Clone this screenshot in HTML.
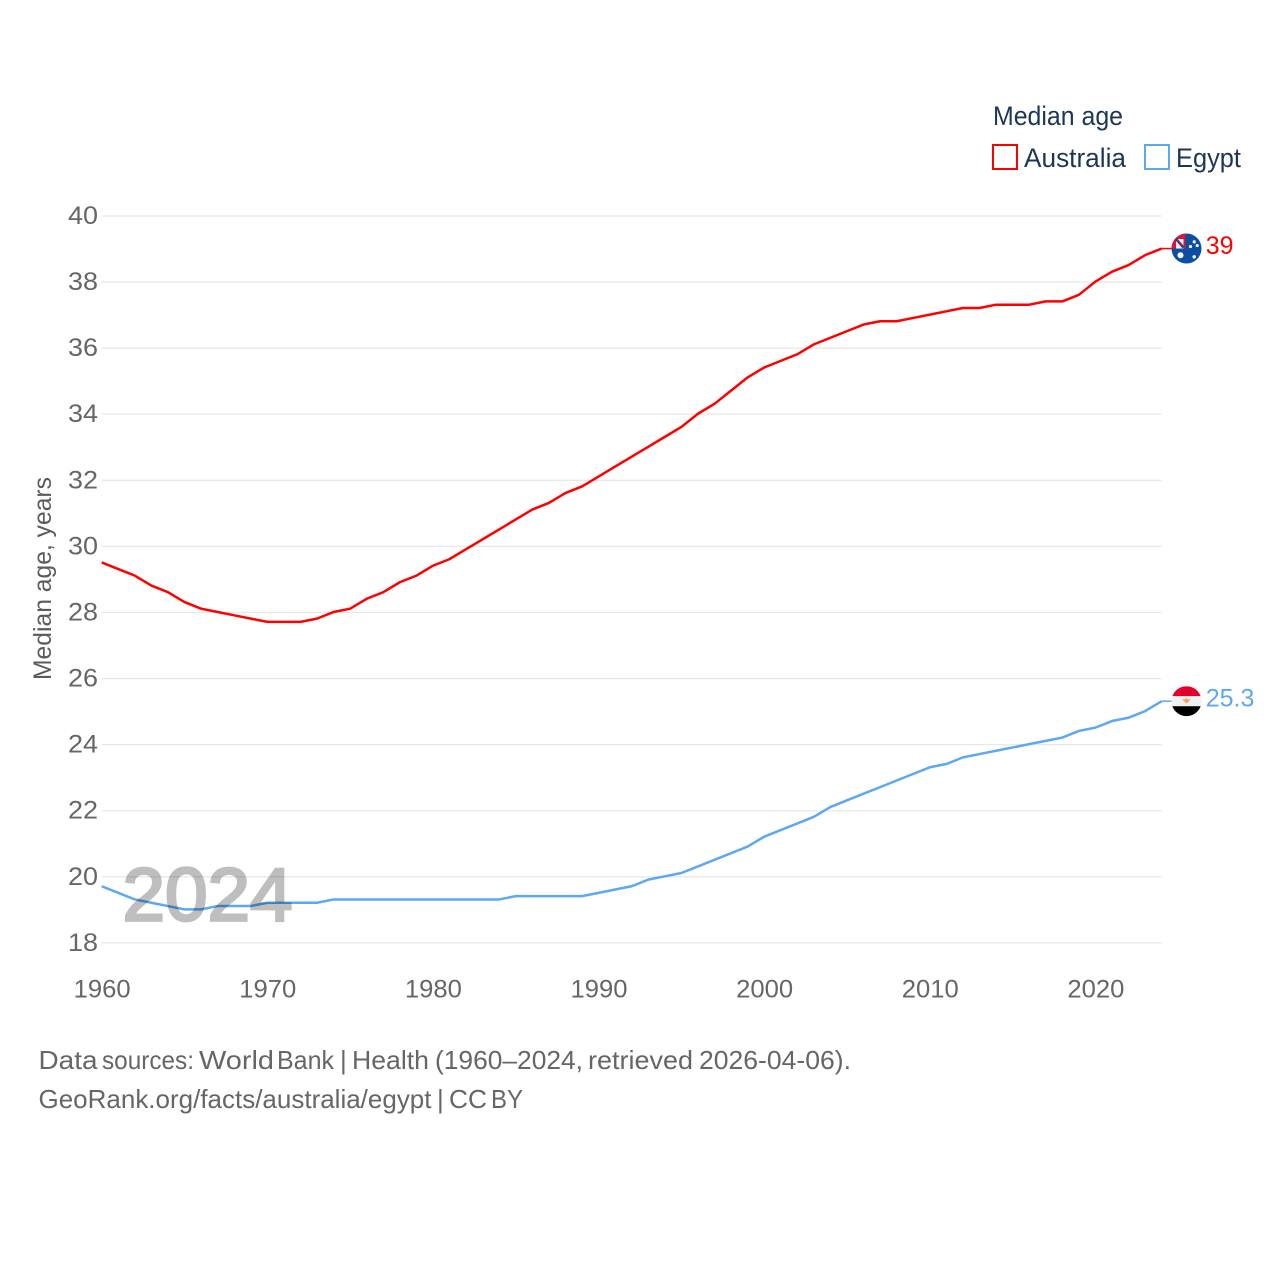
<!DOCTYPE html>
<html lang="en">
<head>
<meta charset="utf-8">
<title>Median age: Australia and Egypt</title>
<style>
html,body{margin:0;padding:0;background:#fff;}
svg{display:block;}
text{font-family:"Liberation Sans",sans-serif;}
</style>
</head>
<body>
<svg id="chart" xmlns="http://www.w3.org/2000/svg" width="1280" height="1280" viewBox="0 0 1280 1280">
  <defs>
    <clipPath id="flag-clip-au"><circle cx="0" cy="0" r="15"/></clipPath>
    <clipPath id="flag-clip-eg"><circle cx="0" cy="0" r="15"/></clipPath>
  </defs>
  <rect width="1280" height="1280" fill="#fff"/>

  <g id="grid" transform="translate(0,0.5)"></g>
  <g id="y-ticks"></g>
  <g id="x-ticks"></g>

  <text transform="translate(51,680) rotate(-90)" font-size="25" fill="#5b5b5b" textLength="203" lengthAdjust="spacingAndGlyphs">Median age, years</text>

  <g>
    <text x="993" y="125" font-size="26.5" fill="#1d3557" textLength="130" lengthAdjust="spacingAndGlyphs">Median age</text>
    <rect x="993" y="145" width="24" height="24" fill="#fff" stroke="#ff0000" stroke-width="2"/>
    <text x="1024" y="167" font-size="26.5" fill="#1d3557" textLength="102" lengthAdjust="spacingAndGlyphs">Australia</text>
    <rect x="1145" y="145" width="24" height="24" fill="#fff" stroke="#5ea8f0" stroke-width="2"/>
    <text x="1176" y="167" font-size="26.5" fill="#1d3557" textLength="65" lengthAdjust="spacingAndGlyphs">Egypt</text>
  </g>

  <g id="series"></g>

  <text x="122.5" y="920.5" font-size="75" fill="#000" stroke="#000" stroke-width="2.8" opacity="0.25" textLength="170" lengthAdjust="spacingAndGlyphs">2024</text>

  <g id="flag-au">
    <g clip-path="url(#flag-clip-au)">
      <rect x="-15" y="-15" width="30" height="30" fill="#0b4ea2"/>
      <rect x="-15" y="-15" width="14" height="15" fill="#d5173c"/>
      <rect x="-10.5" y="-9.5" width="7.5" height="9.5" fill="#eef0f6"/>
      <path d="M-10.5,-9.5 L-3,-1" stroke="#27407f" stroke-width="2.6"/>
      <path d="M-9,-8 L-4,-2.5" stroke="#d5173c" stroke-width="1"/>
      <circle cx="-6" cy="6.7" r="3" fill="#fff"/>
      <circle cx="7.7" cy="-6.7" r="1.6" fill="#fff"/>
      <circle cx="4" cy="-2" r="1.6" fill="#fff"/>
      <circle cx="10.7" cy="-3" r="1.6" fill="#fff"/>
      <circle cx="7.7" cy="8.3" r="1.7" fill="#fff"/>
    </g>
  </g>

  <g id="flag-eg">
    <g clip-path="url(#flag-clip-eg)">
      <rect x="-15" y="-15" width="30" height="10" fill="#e3002b"/>
      <rect x="-15" y="-5" width="30" height="10" fill="#f1f1f1"/>
      <rect x="-15" y="5" width="30" height="10" fill="#000"/>
      <path d="M-4.5,-2.5 L-1.5,-1.8 L0,-3 L1.5,-1.8 L4,-2.5 L2,0.6 L0,2.2 L-2,0.6 Z" fill="#f7a35c"/>
    </g>
  </g>

  <text id="label-au" font-size="25" fill="#ff0000"></text>
  <text id="label-eg" font-size="25" fill="#5ea8f0"></text>

  <g>
    <text y="1069" font-size="26" fill="#666"><tspan x="38.5" textLength="59" lengthAdjust="spacingAndGlyphs">Data</tspan> <tspan x="102" textLength="92" lengthAdjust="spacingAndGlyphs">sources:</tspan> <tspan x="199" textLength="75" lengthAdjust="spacingAndGlyphs">World</tspan> <tspan x="277" textLength="57" lengthAdjust="spacingAndGlyphs">Bank</tspan> <tspan x="340">|</tspan> <tspan x="352" textLength="77" lengthAdjust="spacingAndGlyphs">Health</tspan> <tspan x="435" textLength="148" lengthAdjust="spacingAndGlyphs">(1960–2024,</tspan> <tspan x="588" textLength="105" lengthAdjust="spacingAndGlyphs">retrieved</tspan> <tspan x="699" textLength="152" lengthAdjust="spacingAndGlyphs">2026-04-06).</tspan></text>
    <text y="1108" font-size="26" fill="#666"><tspan x="38.5" textLength="393" lengthAdjust="spacingAndGlyphs">GeoRank.org/facts/australia/egypt</tspan> <tspan x="437">|</tspan> <tspan x="449" textLength="38" lengthAdjust="spacingAndGlyphs">CC</tspan> <tspan x="491" textLength="32" lengthAdjust="spacingAndGlyphs">BY</tspan></text>
  </g>
</svg>

<script>
const years = [1960,1961,1962,1963,1964,1965,1966,1967,1968,1969,1970,1971,1972,1973,1974,1975,1976,1977,1978,1979,1980,1981,1982,1983,1984,1985,1986,1987,1988,1989,1990,1991,1992,1993,1994,1995,1996,1997,1998,1999,2000,2001,2002,2003,2004,2005,2006,2007,2008,2009,2010,2011,2012,2013,2014,2015,2016,2017,2018,2019,2020,2021,2022,2023,2024];
const australia = [29.5,29.3,29.1,28.8,28.6,28.3,28.1,28.0,27.9,27.8,27.7,27.7,27.7,27.8,28.0,28.1,28.4,28.6,28.9,29.1,29.4,29.6,29.9,30.2,30.5,30.8,31.1,31.3,31.6,31.8,32.1,32.4,32.7,33.0,33.3,33.6,34.0,34.3,34.7,35.1,35.4,35.6,35.8,36.1,36.3,36.5,36.7,36.8,36.8,36.9,37.0,37.1,37.2,37.2,37.3,37.3,37.3,37.4,37.4,37.6,38.0,38.3,38.5,38.8,39.0];
const egypt = [19.7,19.5,19.3,19.2,19.1,19.0,19.0,19.1,19.1,19.1,19.2,19.2,19.2,19.2,19.3,19.3,19.3,19.3,19.3,19.3,19.3,19.3,19.3,19.3,19.3,19.4,19.4,19.4,19.4,19.4,19.5,19.6,19.7,19.9,20.0,20.1,20.3,20.5,20.7,20.9,21.2,21.4,21.6,21.8,22.1,22.3,22.5,22.7,22.9,23.1,23.3,23.4,23.6,23.7,23.8,23.9,24.0,24.1,24.2,24.4,24.5,24.7,24.8,25.0,25.3];
const yTickLabels = [18,20,22,24,26,28,30,32,34,36,38,40];
const xTickLabels = [1960,1970,1980,1990,2000,2010,2020];

const NS = 'http://www.w3.org/2000/svg';
const xScale = function (yr) { return 101.7 + (yr - 1960) * (1161.7 - 101.7) / (2024 - 1960); };
const yScale = function (v) { return 942.4 - (v - 18) * (942.4 - 215.5) / (40 - 18); };

const gridGroup = document.getElementById('grid');
const yTickGroup = document.getElementById('y-ticks');
yTickLabels.forEach(function (t) {
  const ln = document.createElementNS(NS, 'line');
  
  
  ln.setAttribute('x1', xScale(1960));
  ln.setAttribute('x2', xScale(2024));
  ln.setAttribute('y1', yScale(t));
  ln.setAttribute('y2', yScale(t));
  ln.setAttribute('stroke', '#e8e8e8');
  ln.setAttribute('stroke-width', '1.3');
  gridGroup.appendChild(ln);

  const lab = document.createElementNS(NS, 'text');
  
  
  lab.setAttribute('x', 68);
  lab.setAttribute('y', yScale(t) + 8.5);
  lab.setAttribute('font-size', '25');
  lab.setAttribute('fill', '#666');
  lab.setAttribute('textLength', '30');
  lab.setAttribute('lengthAdjust', 'spacingAndGlyphs');
  lab.textContent = String(t);
  yTickGroup.appendChild(lab);
});

const xTickGroup = document.getElementById('x-ticks');
xTickLabels.forEach(function (t) {
  const lab = document.createElementNS(NS, 'text');
  
  
  lab.setAttribute('x', xScale(t) - 28);
  lab.setAttribute('y', 997.5);
  lab.setAttribute('font-size', '25');
  lab.setAttribute('fill', '#666');
  lab.setAttribute('textLength', '57');
  lab.setAttribute('lengthAdjust', 'spacingAndGlyphs');
  lab.textContent = String(t);
  xTickGroup.appendChild(lab);
});

const seriesGroup = document.getElementById('series');

function linePath(values) {
  return values.map(function (v, i) {
    return (i ? 'L' : 'M') + xScale(years[i]).toFixed(2) + ',' + yScale(v).toFixed(2);
  }).join(' ');
}

const auLine = document.createElementNS(NS, 'path');


auLine.setAttribute('d', linePath(australia));
auLine.setAttribute('fill', 'none');
auLine.setAttribute('stroke', '#ff0000');
auLine.setAttribute('stroke-width', '2.5');
auLine.setAttribute('stroke-linejoin', 'round');
seriesGroup.appendChild(auLine);

const egLine = document.createElementNS(NS, 'path');


egLine.setAttribute('d', linePath(egypt));
egLine.setAttribute('fill', 'none');
egLine.setAttribute('stroke', '#5ea8f0');
egLine.setAttribute('stroke-width', '2.5');
egLine.setAttribute('stroke-linejoin', 'round');
seriesGroup.appendChild(egLine);

const auLast = australia[australia.length - 1];
const egLast = egypt[egypt.length - 1];
const endX = xScale(years[years.length - 1]);

const auConn = document.createElementNS(NS, 'line');


auConn.setAttribute('x1', endX);
auConn.setAttribute('x2', endX + 12);
auConn.setAttribute('y1', yScale(auLast));
auConn.setAttribute('y2', yScale(auLast));
auConn.setAttribute('stroke', '#ff0000');
auConn.setAttribute('stroke-width', '1.5');
seriesGroup.appendChild(auConn);

const egConn = document.createElementNS(NS, 'line');


egConn.setAttribute('x1', endX);
egConn.setAttribute('x2', endX + 12);
egConn.setAttribute('y1', yScale(egLast));
egConn.setAttribute('y2', yScale(egLast));
egConn.setAttribute('stroke', '#5ea8f0');
egConn.setAttribute('stroke-width', '1.5');
seriesGroup.appendChild(egConn);

document.getElementById('flag-au').setAttribute('transform', 'translate(' + (endX + 24.8) + ',' + yScale(auLast) + ')');
document.getElementById('flag-eg').setAttribute('transform', 'translate(' + (endX + 24.8) + ',' + yScale(egLast) + ')');

const labelAu = document.getElementById('label-au');
labelAu.setAttribute('x', endX + 44);
labelAu.setAttribute('y', yScale(auLast) + 5.5);
labelAu.textContent = String(auLast);

const labelEg = document.getElementById('label-eg');
labelEg.setAttribute('x', endX + 44);
labelEg.setAttribute('y', yScale(egLast) + 5.5);
labelEg.textContent = String(egLast);
</script>
</body>
</html>
